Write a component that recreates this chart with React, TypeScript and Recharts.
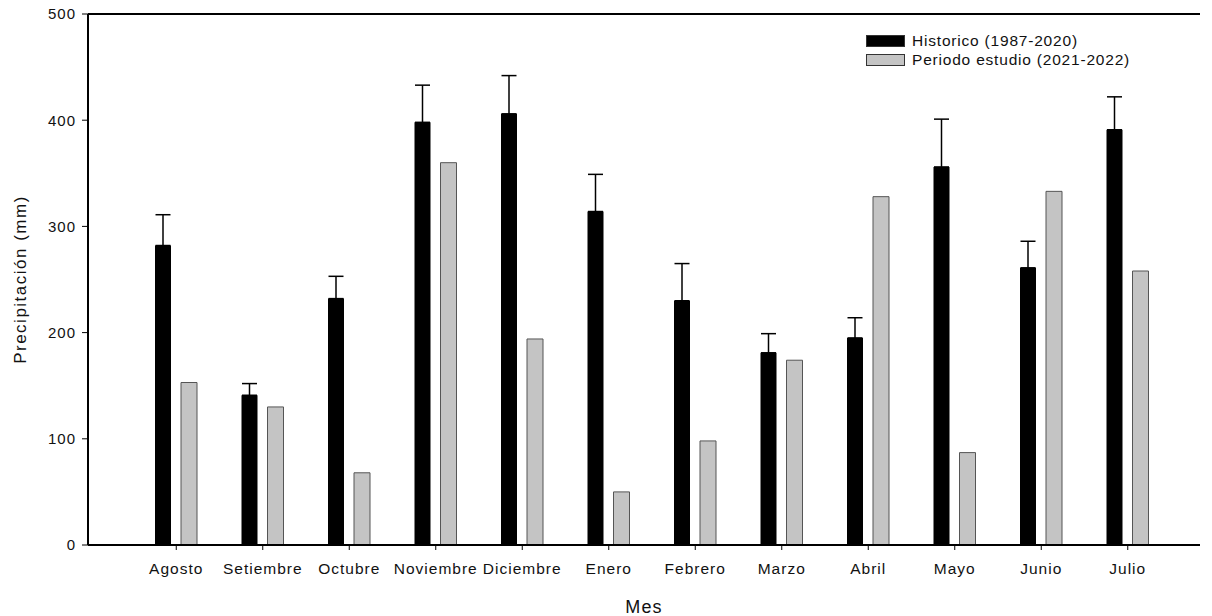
import React from "react";
import { BarChart, Bar, XAxis, YAxis, ErrorBar, ReferenceLine } from "recharts";

const months = ["Agosto", "Setiembre", "Octubre", "Noviembre", "Diciembre", "Enero", "Febrero", "Marzo", "Abril", "Mayo", "Junio", "Julio"];
const historico = [282, 141, 232, 398, 406, 314, 230, 181, 195, 356, 261, 391];
const historicoErr = [29, 11, 21, 35, 36, 35, 35, 18, 19, 45, 25, 31];
const periodo = [153, 130, 68, 360, 194, 50, 98, 174, 328, 87, 333, 258];
const yTicks = [0, 100, 200, 300, 400, 500];
const seriesNames = ["Historico (1987-2020)", "Periodo estudio (2021-2022)"];
const seriesColors = ["#000000", "#c4c4c4"];

const data = months.map((m, i) => ({
  mes: m,
  historico: historico[i],
  err: [0, historicoErr[i]],
  periodo: periodo[i],
}));

const font = "'Liberation Sans', Arial, sans-serif";

function LegendBox() {
  return (
    <div style={{ position: "absolute", left: 866, top: 31, fontFamily: font, fontSize: 15.5, letterSpacing: 0.8, color: "#111" }}>
      {seriesNames.map((name, i) => (
        <div key={name} style={{ display: "flex", alignItems: "center", height: 19 }}>
          <span style={{ width: 37, height: 10, background: seriesColors[i], border: "1px solid #333", marginRight: 7 }} />
          {name}
        </div>
      ))}
    </div>
  );
}

export default function App() {
  return (
    <div style={{ position: "absolute", left: 0, top: 0, width: 1212, height: 616, background: "#fff" }}>
      <BarChart
        width={1212}
        height={616}
        data={data}
        margin={{ top: 14, right: 12, bottom: 0, left: 0 }}
        barSize={16}
        barGap={10}
      >
        <XAxis
          dataKey="mes"
          padding={{ left: 45, right: 29 }}
          height={71}
          tickSize={5}
          tickMargin={13}
          stroke="#000"
          axisLine={{ stroke: "#000", strokeWidth: 2 }}
          tick={{ fill: "#111", fontSize: 15.5, letterSpacing: 1, fontFamily: font }}
          label={{ value: "Mes", position: "insideBottom", offset: 3, fill: "#111", fontSize: 18, letterSpacing: 1.2, fontFamily: font }}
        />
        <YAxis
          domain={[0, 500]}
          ticks={yTicks}
          width={88}
          tickSize={6}
          tickMargin={6}
          stroke="#000"
          axisLine={{ stroke: "#000", strokeWidth: 2 }}
          tick={{ fill: "#111", fontSize: 15, letterSpacing: 1, fontFamily: font }}
          label={{
            value: "Precipitación (mm)",
            angle: -90,
            position: "insideLeft",
            offset: 20,
            style: { textAnchor: "middle" },
            fill: "#111",
            fontSize: 17,
            letterSpacing: 1.5,
            fontFamily: font,
          }}
        />
        <ReferenceLine y={500} stroke="#000" strokeWidth={2} />
        <Bar dataKey="historico" fill={seriesColors[0]} isAnimationActive={false}>
          <ErrorBar dataKey="err" width={7.5} stroke="#000" strokeWidth={1.5} isAnimationActive={false} />
        </Bar>
        <Bar dataKey="periodo" fill={seriesColors[1]} stroke="#555" strokeWidth={1} isAnimationActive={false} />
      </BarChart>
      <LegendBox />
    </div>
  );
}
